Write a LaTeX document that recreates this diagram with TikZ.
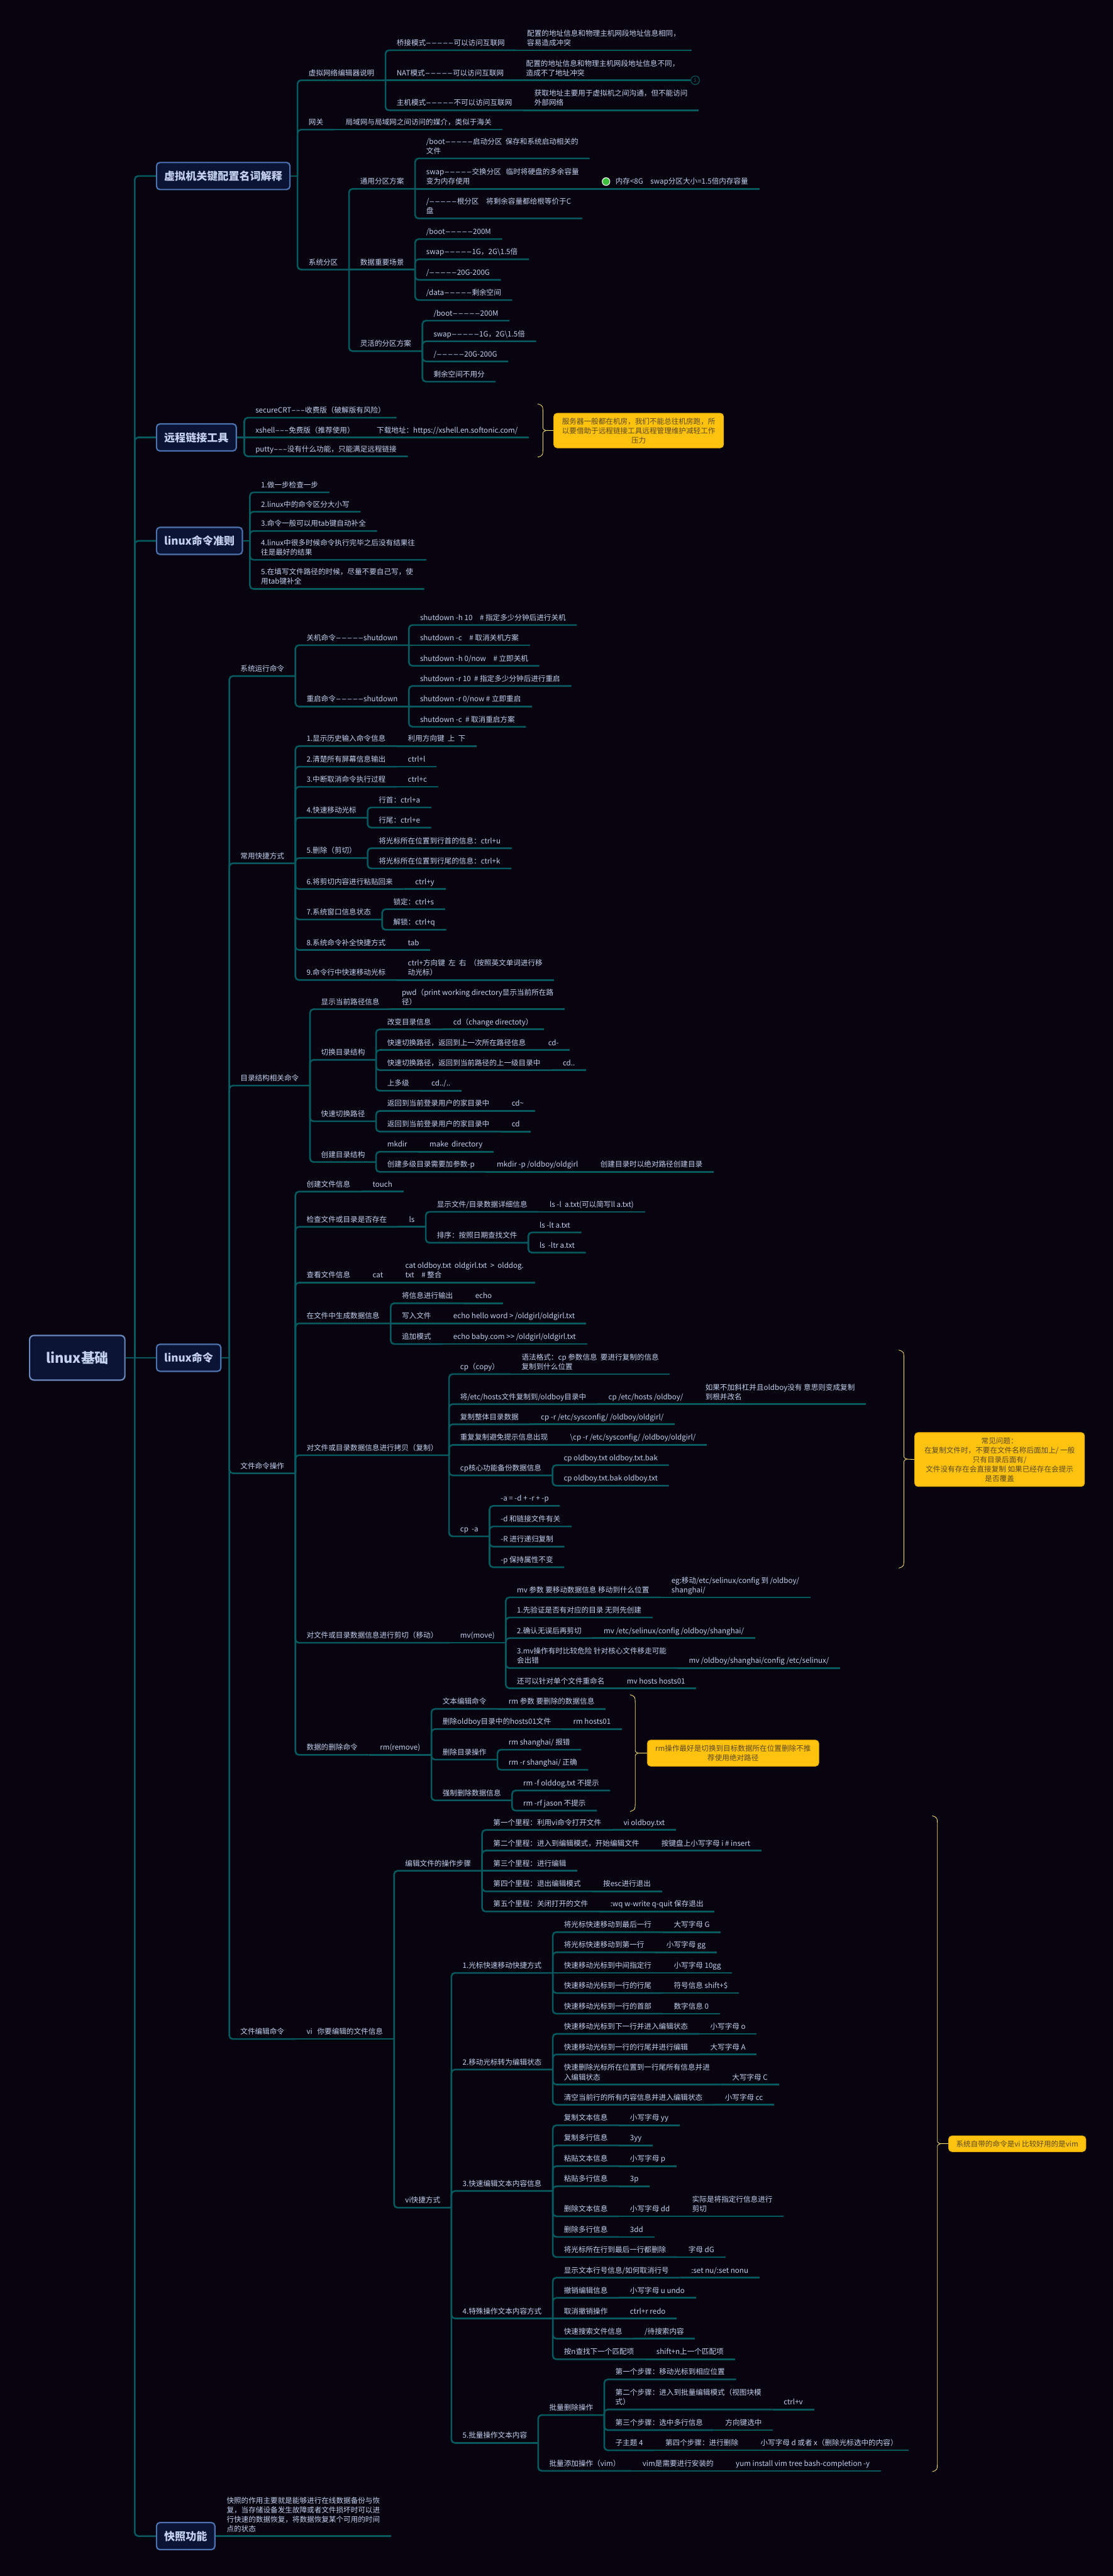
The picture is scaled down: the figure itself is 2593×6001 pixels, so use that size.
\documentclass[tikz,border=0pt]{standalone}
\usepackage{fontspec}
\usepackage{graphicx}
\setmainfont{Noto Sans CJK SC}[Ligatures=TeXOff]
\usetikzlibrary{calc}
\definecolor{bgc}{HTML}{07040F}
\definecolor{lnc}{HTML}{06595E}
\definecolor{txt}{HTML}{C3D1EF}
\definecolor{boxf}{HTML}{0B1434}
\definecolor{boxd}{HTML}{4C72B0}
\definecolor{rootd}{HTML}{6A88BC}
\definecolor{yel}{HTML}{FFC20E}
\definecolor{yeld}{HTML}{E3A600}
\definecolor{ntxt}{HTML}{5B4A20}
\definecolor{sumc}{HTML}{FFE676}
\definecolor{grn}{HTML}{3DBE3D}
\newcommand\fs{\fontsize{8.5pt}{11pt}\selectfont}
\newcommand\dd{\scalebox{2.2}[1]{-----}}
\newcommand\ddd{\scalebox{1.8}[1]{---}}
\tikzset{
 t/.style={anchor=south west, inner xsep=13pt, inner ysep=0pt, outer sep=0pt, align=left, font=\fs, text=txt, execute at end node={\rule[-5.5pt]{0pt}{5.5pt}}},
 ln/.style={draw=lnc, line width=1.9pt, rounded corners=4pt},
 pt/.style={inner sep=0pt, outer sep=0pt, minimum size=0pt},
 l1/.style={draw=boxd, line width=1.6pt, fill=boxf, rounded corners=4pt, font=\bfseries\fontsize{12.5pt}{15pt}\selectfont, text=txt, minimum height=31.5pt, inner xsep=9pt, anchor=west},
 rootbox/.style={draw=rootd, line width=1.6pt, fill=boxf, rounded corners=5pt, font=\bfseries\fontsize{16pt}{19pt}\selectfont, text=txt, minimum width=111pt, minimum height=52pt},
 note/.style={fill=yel, draw=yeld, line width=0.6pt, rounded corners=4pt, align=center, font=\fs, text=ntxt, inner sep=2pt},
 sum/.style={draw=sumc, line width=0.6pt},
}
\newcommand\kid[4]{\node[t] (#2) at (#1.south east |- 0,#3) {#4};\draw[ln] (#1.south east) |- (#2.south east);}
\newcommand\inl[3]{\node[t] (#2) at (#1.south east) {#3};\draw[ln] (#1.south east) -- (#2.south east);}
\newcommand\sumbr[4]{\draw[sum] (#1,#2) .. controls (#1+12,#2+4) .. (#1+12,#2+24) -- (#1+12,#4-10) .. controls (#1+12,#4-3) .. (#1+19,#4) .. controls (#1+12,#4+3) .. (#1+12,#4+10) -- (#1+12,#3-24) .. controls (#1+12,#3-4) .. (#1,#3);}
\begin{document}
\begin{tikzpicture}[x=0.5pt,y=-0.5pt]
\fill[bgc] (0,0) rectangle (2593,6001);
\useasboundingbox (0,0) rectangle (2593,6001);

% root and level-1 boxes
\node[rootbox] (root) at (180,3163) {linux基础};
\node[pt] (rk) at (314,3163) {};
\node[l1] (b1) at (363,410) {虚拟机关键配置名词解释};
\node[l1] (b2) at (363,1019) {远程链接工具};
\node[l1] (b3) at (363,1260) {linux命令准则};
\node[l1] (b4) at (363,3163) {linux命令};
\node[l1] (b5) at (363,5908) {快照功能};
\draw[ln] (root.east) -- (b4.west);
\draw[ln] (rk) |- (b1.west);
\draw[ln] (rk) |- (b2.west);
\draw[ln] (rk) |- (b3.west);
\draw[ln] (rk) |- (b5.west);

% ===== section 1
\node[pt] (k1) at ($(b1.east)+(16,0)$) {};
\draw[ln] (b1.east) -- (k1);
\kid{k1}{a1}{187}{虚拟网络编辑器说明}
 \kid{a1}{a11}{117}{桥接模式\dd 可以访问互联网}
  \inl{a11}{a111}{配置的地址信息和物理主机网段地址信息相同，\\容易造成冲突}
 \inl{a1}{a12}{NAT模式\dd 可以访问互联网}
  \inl{a12}{a121}{配置的地址信息和物理主机网段地址信息不同，\\造成不了地址冲突}
  \node[circle, draw=lnc, line width=0.8pt, fill=bgc, inner sep=0pt, minimum size=10pt, font=\fontsize{6pt}{6pt}\selectfont, text=lnc, anchor=west] (num1) at (a121.south east) {1};
 \kid{a1}{a13}{257}{主机模式\dd 不可以访问互联网}
  \inl{a13}{a131}{获取地址主要用于虚拟机之间沟通，但不能访问\\外部网络}
\kid{k1}{a2}{302}{网关}
 \inl{a2}{a21}{局域网与局域网之间访问的媒介，类似于海关}
\kid{k1}{a3}{628}{系统分区}
 \kid{a3}{a31}{440}{通用分区方案}
  \kid{a31}{a311}{369}{/boot\dd 启动分区\ \ 保存和系统启动相关的\\文件}
  \inl{a31}{a312}{swap\dd 交换分区\ \ \ 临时将硬盘的多余容量\\变为内存使用}
   \inl{a312}{a3121}{\hspace{16.5pt}内存<8G\quad swap分区大小=1.5倍内存容量}
   \node[circle, fill=grn, draw=white, line width=0.8pt, minimum size=9pt, inner sep=0pt] (gdot) at ($(a3121.south west)+(37,-17)$) {};
  \kid{a31}{a313}{509}{/\dd 根分区\quad 将剩余容量都给根等价于C\\盘}
 \inl{a3}{a32}{数据重要场景}
  \kid{a32}{a321}{557}{/boot\dd 200M}
  \kid{a32}{a322}{604}{swap\dd 1G，2G\textbackslash 1.5倍}
  \kid{a32}{a323}{652}{/\dd 20G-200G}
  \kid{a32}{a324}{699}{/data\dd 剩余空间}
 \kid{a3}{a33}{818}{灵活的分区方案}
  \kid{a33}{a331}{747}{/boot\dd 200M}
  \kid{a33}{a332}{795}{swap\dd 1G，2G\textbackslash 1.5倍}
  \kid{a33}{a333}{842}{/\dd 20G-200G}
  \kid{a33}{a334}{889}{剩余空间不用分}

% ===== section 2
\node[pt] (k2) at ($(b2.east)+(17,0)$) {};
\draw[ln] (b2.east) -- (k2);
\kid{k2}{c1}{973}{secureCRT\ddd 收费版（破解版有风险）}
\inl{k2}{c2}{xshell\ddd 免费版（推荐使用）}
 \inl{c2}{c21}{下载地址：https://xshell.en.softonic.com/}
\kid{k2}{c3}{1063}{putty\ddd 没有什么功能，只能满足远程链接}
\sumbr{1253}{941}{1065}{1003}
\node[note, minimum width=198pt, minimum height=40.5pt] (n1) at (1488,1003) {服务器一般都在机房，我们不能总往机房跑，所\\以要借助于远程链接工具远程管理维护减轻工作\\压力};
\draw[sum] (1272,1003) -- (n1.west);

% ===== section 3
\node[pt] (k3) at ($(b3.east)+(16,0)$) {};
\draw[ln] (b3.east) -- (k3);
\kid{k3}{d1}{1147}{1.做一步检查一步}
\kid{k3}{d2}{1192}{2.linux中的命令区分大小写}
\kid{k3}{d3}{1237}{3.命令一般可以用tab键自动补全}
\kid{k3}{d4}{1304}{4.linux中很多时候命令执行完毕之后没有结果往\\往是最好的结果}
\kid{k3}{d5}{1372}{5.在填写文件路径的时候，尽量不要自己写，使\\用tab键补全}

% ===== section 4
\node[pt] (k4) at ($(b4.east)+(18,0)$) {};
\draw[ln] (b4.east) -- (k4);
\kid{k4}{e1}{1575}{系统运行命令}
 \kid{e1}{e11}{1503}{关机命令\dd shutdown}
  \kid{e11}{e111}{1456}{shutdown -h 10\quad\# 指定多少分钟后进行关机}
  \inl{e11}{e112}{shutdown -c\quad\# 取消关机方案}
  \kid{e11}{e113}{1551}{shutdown -h 0/now\quad\# 立即关机}
 \kid{e1}{e12}{1646}{重启命令\dd shutdown}
  \kid{e12}{e121}{1598}{shutdown -r 10\ \ \# 指定多少分钟后进行重启}
  \inl{e12}{e122}{shutdown -r 0/now \# 立即重启}
  \kid{e12}{e123}{1693}{shutdown -c\ \ \# 取消重启方案}
\kid{k4}{e2}{2011}{常用快捷方式}
 \kid{e2}{e21}{1738}{1.显示历史输入命令信息}
  \inl{e21}{e211}{利用方向键\ \ 上\ \ 下}
 \kid{e2}{e22}{1786}{2.清楚所有屏幕信息输出}
  \inl{e22}{e221}{ctrl+l}
 \kid{e2}{e23}{1833}{3.中断取消命令执行过程}
  \inl{e23}{e231}{ctrl+c}
 \kid{e2}{e24}{1905}{4.快速移动光标}
  \kid{e24}{e241}{1881}{行首：ctrl+a}
  \kid{e24}{e242}{1928}{行尾：ctrl+e}
 \kid{e2}{e25}{1999}{5.删除（剪切）}
  \kid{e25}{e251}{1976}{将光标所在位置到行首的信息：ctrl+u}
  \kid{e25}{e252}{2023}{将光标所在位置到行尾的信息：ctrl+k}
 \kid{e2}{e26}{2071}{6.将剪切内容进行粘贴回来}
  \inl{e26}{e261}{ctrl+y}
 \kid{e2}{e27}{2142}{7.系统窗口信息状态}
  \kid{e27}{e271}{2118}{锁定：ctrl+s}
  \kid{e27}{e272}{2166}{解锁：ctrl+q}
 \kid{e2}{e28}{2213}{8.系统命令补全快捷方式}
  \inl{e28}{e281}{tab}
 \kid{e2}{e29}{2283}{9.命令行中快速移动光标}
  \inl{e29}{e291}{ctrl+方向键\ \ 左\ \ 右\ \ （按照英文单词进行移\\动光标）}
\kid{k4}{e3}{2529}{目录结构相关命令}
 \kid{e3}{e31}{2351}{显示当前路径信息}
  \inl{e31}{e311}{pwd（print working directory显示当前所在路\\径）}
 \kid{e3}{e32}{2469}{切换目录结构}
  \kid{e32}{e321}{2398}{改变目录信息}
   \inl{e321}{e3211}{cd（change directoty）}
  \kid{e32}{e322}{2446}{快速切换路径，返回到上一次所在路径信息}
   \inl{e322}{e3221}{cd-}
  \kid{e32}{e323}{2493}{快速切换路径，返回到当前路径的上一级目录中}
   \inl{e323}{e3231}{cd..}
  \kid{e32}{e324}{2541}{上多级}
   \inl{e324}{e3241}{cd../..}
 \kid{e3}{e33}{2612}{快速切换路径}
  \kid{e33}{e331}{2588}{返回到当前登录用户的家目录中}
   \inl{e331}{e3311}{cd\textasciitilde}
  \kid{e33}{e332}{2636}{返回到当前登录用户的家目录中}
   \inl{e332}{e3321}{cd}
 \kid{e3}{e34}{2707}{创建目录结构}
  \kid{e34}{e341}{2683}{mkdir}
   \inl{e341}{e3411}{make\ \ directory}
  \kid{e34}{e342}{2730}{创建多级目录需要加参数-p}
   \inl{e342}{e3421}{mkdir -p /oldboy/oldgirl}
   \inl{e3421}{e3422}{创建目录时以绝对路径创建目录}
\kid{k4}{e4}{3432}{文件命令操作}
 \kid{e4}{e41}{2776}{创建文件信息}
  \inl{e41}{e411}{touch}
 \kid{e4}{e42}{2858}{检查文件或目录是否存在}
  \inl{e42}{e421}{ls}
   \kid{e421}{e4211}{2823}{显示文件/目录数据详细信息}
    \inl{e4211}{e42111}{ls -l\ \ a.txt(可以简写ll a.txt)}
   \kid{e421}{e4212}{2895}{排序：按照日期查找文件}
    \kid{e4212}{e42121}{2871}{ls -lt a.txt}
    \kid{e4212}{e42122}{2918}{ls\ \ -ltr a.txt}
 \kid{e4}{e43}{2988}{查看文件信息}
  \inl{e43}{e431}{cat}
   \inl{e431}{e4311}{cat oldboy.txt\ \ oldgirl.txt\ \ >\ \ olddog.\\txt\quad\# 整合}
 \kid{e4}{e44}{3083}{在文件中生成数据信息}
  \kid{e44}{e441}{3036}{将信息进行输出}
   \inl{e441}{e4411}{echo}
  \inl{e44}{e442}{写入文件}
   \inl{e442}{e4421}{echo hello word > /oldgirl/oldgirl.txt}
  \kid{e44}{e443}{3131}{追加模式}
   \inl{e443}{e4431}{echo baby.com >> /oldgirl/oldgirl.txt}
 \kid{e4}{e45}{3390}{对文件或目录数据信息进行拷贝（复制）}
  \kid{e45}{e451}{3201}{cp（copy）}
   \inl{e451}{e4511}{语法格式：cp 参数信息\ \ 要进行复制的信息\\复制到什么位置}
  \kid{e45}{e452}{3271}{将/etc/hosts文件复制到/oldboy目录中}
   \inl{e452}{e4521}{cp /etc/hosts /oldboy/}
   \inl{e4521}{e4522}{如果不加斜杠并且oldboy没有 意思则变成复制\\到根并改名}
  \kid{e45}{e453}{3318}{复制整体目录数据}
   \inl{e453}{e4531}{cp -r /etc/sysconfig/ /oldboy/oldgirl/}
  \kid{e45}{e454}{3366}{重复复制避免提示信息出现}
   \inl{e454}{e4541}{\textbackslash cp -r /etc/sysconfig/ /oldboy/oldgirl/}
  \kid{e45}{e455}{3437}{cp核心功能备份数据信息}
   \kid{e455}{e4551}{3413}{cp oldboy.txt oldboy.txt.bak}
   \kid{e455}{e4552}{3461}{cp oldboy.txt.bak oldboy.txt}
  \kid{e45}{e456}{3579}{cp\ \ -a}
   \kid{e456}{e4561}{3508}{-a = -d + -r + -p}
   \kid{e456}{e4562}{3556}{-d 和链接文件有关}
   \kid{e456}{e4563}{3603}{-R 进行递归复制}
   \kid{e456}{e4564}{3651}{-p 保持属性不变}
 \kid{e4}{e46}{3827}{对文件或目录数据信息进行剪切（移动）}
  \inl{e46}{e461}{mv(move)}
   \kid{e461}{e4611}{3721}{mv 参数 要移动数据信息 移动到什么位置}
    \inl{e4611}{e46111}{eg:移动/etc/selinux/config 到 /oldboy/\\shanghai/}
   \kid{e461}{e4612}{3768}{1.先验证是否有对应的目录 无则先创建}
   \kid{e461}{e4613}{3816}{2.确认无误后再剪切}
    \inl{e4613}{e46131}{mv /etc/selinux/config /oldboy/shanghai/}
   \kid{e461}{e4614}{3886}{3.mv操作有时比较危险 针对核心文件移走可能\\会出错}
    \inl{e4614}{e46141}{mv /oldboy/shanghai/config /etc/selinux/}
   \kid{e461}{e4615}{3933}{还可以针对单个文件重命名}
    \inl{e4615}{e46151}{mv hosts hosts01}
 \kid{e4}{e47}{4088}{数据的删除命令}
  \inl{e47}{e471}{rm(remove)}
   \kid{e471}{e4711}{3981}{文本编辑命令}
    \inl{e4711}{e47111}{rm 参数 要删除的数据信息}
   \kid{e471}{e4712}{4028}{删除oldboy目录中的hosts01文件}
    \inl{e4712}{e47121}{rm hosts01}
   \kid{e471}{e4713}{4099}{删除目录操作}
    \kid{e4713}{e47131}{4076}{rm shanghai/ 报错}
    \kid{e4713}{e47132}{4123}{rm -r shanghai/ 正确}
   \kid{e471}{e4714}{4194}{强制删除数据信息}
    \kid{e4714}{e47141}{4171}{rm -f olddog.txt 不提示}
    \kid{e4714}{e47142}{4218}{rm -rf jason 不提示}
\kid{k4}{e5}{4750}{文件编辑命令}
 \inl{e5}{e51}{vi\ \ \ 你要编辑的文件信息}
  \kid{e51}{e511}{4358}{编辑文件的操作步骤}
   \kid{e511}{e5111}{4263}{第一个里程：利用vi命令打开文件}
    \inl{e5111}{e51111}{vi oldboy.txt}
   \kid{e511}{e5112}{4311}{第二个里程：进入到编辑模式，开始编辑文件}
    \inl{e5112}{e51121}{按键盘上小写字母 i \# insert}
   \inl{e511}{e5113}{第三个里程：进行编辑}
   \kid{e511}{e5114}{4406}{第四个里程：退出编辑模式}
    \inl{e5114}{e51141}{按esc进行退出}
   \kid{e511}{e5115}{4453}{第五个里程：关闭打开的文件}
    \inl{e5115}{e51151}{:wq w-write q-quit 保存退出}
  \kid{e51}{e512}{5143}{vi快捷方式}
   \kid{e512}{e5121}{4596}{1.光标快速移动快捷方式}
    \kid{e5121}{v11}{4501}{将光标快速移动到最后一行}
     \inl{v11}{v111}{大写字母 G}
    \kid{e5121}{v12}{4548}{将光标快速移动到第一行}
     \inl{v12}{v121}{小写字母 gg}
    \inl{e5121}{v13}{快速移动光标到中间指定行}
     \inl{v13}{v131}{小写字母 10gg}
    \kid{e5121}{v14}{4643}{快速移动光标到一行的行尾}
     \inl{v14}{v141}{符号信息 shift+\$}
    \kid{e5121}{v15}{4691}{快速移动光标到一行的首部}
     \inl{v15}{v151}{数字信息 0}
   \kid{e512}{e5122}{4821}{2.移动光标转为编辑状态}
    \kid{e5122}{v21}{4738}{快速移动光标到下一行并进入编辑状态}
     \inl{v21}{v211}{小写字母 o}
    \kid{e5122}{v22}{4786}{快速移动光标到一行的行尾并进行编辑}
     \inl{v22}{v221}{大写字母 A}
    \kid{e5122}{v23}{4856}{快速删除光标所在位置到一行尾所有信息并进\\入编辑状态}
     \inl{v23}{v231}{大写字母 C}
    \kid{e5122}{v24}{4903}{清空当前行的所有内容信息并进入编辑状态}
     \inl{v24}{v241}{小写字母 cc}
   \kid{e512}{e5123}{5104}{3.快速编辑文本内容信息}
    \kid{e5123}{v31}{4951}{复制文本信息}
     \inl{v31}{v311}{小写字母 yy}
    \kid{e5123}{v32}{4998}{复制多行信息}
     \inl{v32}{v321}{3yy}
    \kid{e5123}{v33}{5046}{粘贴文本信息}
     \inl{v33}{v331}{小写字母 p}
    \kid{e5123}{v34}{5093}{粘贴多行信息}
     \inl{v34}{v341}{3p}
    \kid{e5123}{v35}{5163}{删除文本信息}
     \inl{v35}{v351}{小写字母 dd}
     \inl{v351}{v352}{实际是将指定行信息进行\\剪切}
    \kid{e5123}{v36}{5211}{删除多行信息}
     \inl{v36}{v361}{3dd}
    \kid{e5123}{v37}{5258}{将光标所在行到最后一行都删除}
     \inl{v37}{v371}{字母 dG}
   \kid{e512}{e5124}{5401}{4.特殊操作文本内容方式}
    \kid{e5124}{v41}{5306}{显示文本行号信息/如何取消行号}
     \inl{v41}{v411}{:set nu/:set nonu}
    \kid{e5124}{v42}{5353}{撤销编辑信息}
     \inl{v42}{v421}{小写字母 u undo}
    \inl{e5124}{v43}{取消撤销操作}
     \inl{v43}{v431}{ctrl+r redo}
    \kid{e5124}{v44}{5448}{快速搜索文件信息}
     \inl{v44}{v441}{/待搜索内容}
    \kid{e5124}{v45}{5496}{按n查找下一个匹配项}
     \inl{v45}{v451}{shift+n上一个匹配项}
   \kid{e512}{e5125}{5691}{5.批量操作文本内容}
    \kid{e5125}{v51}{5626}{批量删除操作}
     \kid{v51}{v511}{5543}{第一个步骤：移动光标到相应位置}
     \kid{v51}{v512}{5613}{第二个步骤：进入到批量编辑模式（视图块模\\式）}
      \inl{v512}{v5121}{ctrl+v}
     \kid{v51}{v513}{5661}{第三个步骤：选中多行信息}
      \inl{v513}{v5131}{方向键选中}
     \kid{v51}{v514}{5708}{子主题 4}
      \inl{v514}{v5141}{第四个步骤：进行删除}
      \inl{v5141}{v5142}{小写字母 d 或者 x（删除光标选中的内容）}
    \kid{e5125}{v52}{5756}{批量添加操作（vim）}
     \inl{v52}{v521}{vim是需要进行安装的}
     \inl{v521}{v522}{yum install vim tree bash-completion -y}

% notes of section 4
\sumbr{2094}{3145}{3653}{3399}
\node[note, minimum width=198pt, minimum height=63pt] (n2) at (2329,3400) {常见问题：\\在复制文件时，不要在文件名称后面加上/ 一般\\只有目录后面有/\\文件没有存在会直接复制 如果已经存在会提示\\是否覆盖};
\draw[sum] (2113,3399) -- (n2.west);
\sumbr{1468}{3948}{4220}{4084}
\node[note, minimum width=200pt, minimum height=30.5pt] (n3) at (1708,4084) {rm操作最好是切换到目标数据所在位置删除不推\\荐使用绝对路径};
\draw[sum] (1487,4084) -- (n3.west);
\sumbr{2172}{4230}{5758}{4994}
\node[note, minimum width=160pt, minimum height=18.5pt] (n4) at (2370,4994) {系统自带的命令是vi 比较好用的是vim};
\draw[sum] (2191,4994) -- (n4.west);

% ===== section 5
\node[pt] (k5) at (b5.east) {};
\inl{k5}{f1}{快照的作用主要就是能够进行在线数据备份与恢\\复，当存储设备发生故障或者文件损坏时可以进\\行快速的数据恢复，将数据恢复某个可用的时间\\点的状态}
\end{tikzpicture}
\end{document}
